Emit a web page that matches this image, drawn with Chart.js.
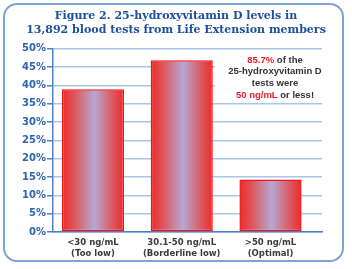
<!DOCTYPE html>
<html>
<head>
<meta charset="utf-8">
<script src="https://cdn.jsdelivr.net/npm/chart.js@4"></script>
<style>
    html, body { margin: 0; padding: 0; background: #fff; }
    #wrap { position: relative; width: 352px; height: 269px; }
    #frame {
        position: absolute; left: 3px; top: 3px; width: 337px; height: 255px;
        border: 2px solid #7fa3d2; border-radius: 14px;
    }
    #myChart { position: absolute; left: 0; top: 0; }
</style>
</head>
<body>
<div id="wrap">
    <div id="frame"></div>
    <canvas id="myChart" width="352" height="269"></canvas>
</div>
<script>
// 資料
const titleLines = ['Figure 2. 25-hydroxyvitamin D levels in', '13,892 blood tests from Life Extension members'];
const categories = [['<30 ng/mL', '(Too low)'], ['30.1-50 ng/mL', '(Borderline low)'], ['>50 ng/mL', '(Optimal)']];
const positions = [0, 1, 2];
const percentValues = [38.9, 46.8, 14.3];
const noteLines = [
    [['85.7%', '#e8202a'], [' of the', '#333333']],
    [['25-hydroxyvitamin D', '#333333']],
    [['tests were', '#333333']],
    [['50 ng/mL', '#e8202a'], [' or less!', '#333333']]
];

const barPct = 0.7;

// 長條漸層 (紅 -> 淡紫 -> 紅)
function barFill(context) {
    const chart = context.chart;
    const xScale = chart.scales.x;
    if (!xScale || context.dataIndex === undefined) return '#e03030';
    const cx = xScale.getPixelForValue(positions[context.dataIndex]);
    const unit = xScale.getPixelForValue(1) - xScale.getPixelForValue(0);
    const half = unit * barPct / 2;
    if (!isFinite(cx) || !isFinite(half)) return '#e03030';
    const g = chart.ctx.createLinearGradient(cx - half, 0, cx + half, 0);
    g.addColorStop(0, '#ec2a2a');
    g.addColorStop(0.22, '#dc5a62');
    g.addColorStop(0.52, '#b6a8d4');
    g.addColorStop(0.8, '#da5c66');
    g.addColorStop(1, '#ec2a2a');
    return g;
}

// 右上角說明文字
const notePlugin = {
    id: 'note',
    afterDatasetsDraw(chart) {
        const ctx = chart.ctx;
        ctx.save();
        ctx.fillStyle = '#ffffff';
        ctx.fillRect(215, 54, 108, 46);
        ctx.font = 'bold 9.5px "Liberation Sans", Arial, sans-serif';
        ctx.textBaseline = 'middle';
        const cx = 275;
        let y = 60;
        noteLines.forEach(parts => {
            let total = 0;
            parts.forEach(p => total += ctx.measureText(p[0]).width);
            let x = cx - total / 2;
            parts.forEach(p => {
                ctx.fillStyle = p[1];
                ctx.textAlign = 'left';
                ctx.fillText(p[0], x, y);
                x += ctx.measureText(p[0]).width;
            });
            y += 11.7;
        });
        ctx.restore();
    }
};

const ctx = document.getElementById('myChart').getContext('2d');
const myChart = new Chart(ctx, {
    type: 'bar',
    data: {
        datasets: [{
            data: positions.map((p, i) => ({ x: p, y: percentValues[i] })),
            backgroundColor: barFill,
            borderColor: '#f01414',
            borderWidth: 1.5,
            borderSkipped: false,
            categoryPercentage: 1,
            barPercentage: barPct
        }]
    },
    options: {
        responsive: false,
        animation: false,
        devicePixelRatio: 1,
        layout: { padding: { left: 0, right: 0, top: 0, bottom: 7 } },
        plugins: {
            legend: { display: false },
            tooltip: { enabled: false },
            title: {
                display: true,
                text: titleLines,
                color: '#1d4f9c',
                font: { family: '"DejaVu Serif", serif', size: 11, weight: 'bold', lineHeight: 1.3 },
                padding: { top: 9, bottom: 11 }
            }
        },
        scales: {
            x: {
                type: 'linear',
                offset: false,
                min: -0.45,
                max: 2.58,
                grid: { display: false, offset: false, drawTicks: false },
                border: { display: true, color: '#4f80c2', width: 1.5 },
                afterFit(scale) { scale.height = 30; },
                ticks: {
                    stepSize: 1,
                    includeBounds: false,
                    padding: 5,
                    color: '#3a3a3a',
                    font: { family: '"DejaVu Sans", sans-serif', size: 8.5, weight: 'bold', lineHeight: 1.35 },
                    callback: function (v) {
                        const i = positions.indexOf(v);
                        return i >= 0 ? categories[i] : '';
                    }
                }
            },
            y: {
                min: 0,
                max: 50,
                afterFit(scale) { scale.width = 53; },
                grid: { color: '#a9c6e6', lineWidth: 1.5, tickLength: 6, tickColor: '#4f80c2' },
                border: { display: true, color: '#4f80c2', width: 1.5 },
                ticks: {
                    stepSize: 5,
                    padding: 1,
                    color: '#2e64b0',
                    font: { family: '"DejaVu Sans", sans-serif', size: 10, weight: 'bold' },
                    callback: function (v) { return v + '%'; }
                }
            },
            // 右側留白用的空軸
            yRight: {
                position: 'right',
                min: 0,
                max: 50,
                afterFit(scale) { scale.width = 30; },
                grid: { display: false, drawTicks: false },
                border: { display: false },
                ticks: { display: false }
            }
        }
    },
    plugins: [notePlugin]
});
</script>
</body>
</html>
